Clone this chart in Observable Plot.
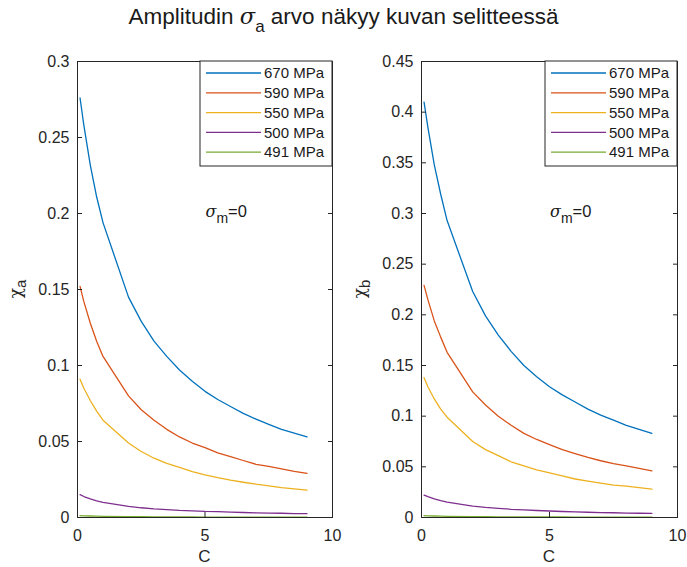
<!DOCTYPE html>
<html><head><meta charset="utf-8">
<script src="https://cdn.jsdelivr.net/npm/d3@7"></script>
<script src="https://cdn.jsdelivr.net/npm/@observablehq/plot@0.6"></script>
<style>
body{margin:0;background:#fff;font-family:"Liberation Sans",Arial,Helvetica,sans-serif;}
#wrap{position:relative;width:687px;height:567px;background:#fff;overflow:hidden;}
#title{position:absolute;top:3px;left:0;width:687px;text-align:center;font-size:22.5px;color:#1a1a1a;white-space:nowrap;}
#title i{font-family:"DejaVu Serif",serif;}
#title sub{font-size:17px;vertical-align:-8px;}
.panel{position:absolute;top:40px;}
</style></head><body>
<div id="wrap">
  <div id="title">Amplitudin <i>σ</i><sub>a</sub> arvo näkyy kuvan selitteessä</div>
  <div class="panel" id="pA" style="left:0px"></div>
  <div class="panel" id="pB" style="left:343px"></div>
</div>
<script>
// ---- data ----
const C = [0.1, 0.25, 0.5, 0.75, 1, 2, 2.5, 3, 3.5, 4, 4.5, 5, 5.5, 6, 6.5, 7, 7.5, 8, 8.5, 9];
const seriesNames = ["670 MPa", "590 MPa", "550 MPa", "500 MPa", "491 MPa"];
const seriesColors = ["#0072BD", "#D95319", "#EDB120", "#7E2F8E", "#77AC30"];

// chi_a (left panel)
const chiA_670 = [0.276, 0.258, 0.232, 0.211, 0.194, 0.145, 0.129, 0.116, 0.106, 0.097, 0.0896, 0.083, 0.0776, 0.073, 0.0685, 0.0647, 0.0613, 0.058, 0.0555, 0.053];
const chiA_590 = [0.152, 0.142, 0.128, 0.116, 0.106, 0.080, 0.0709, 0.064, 0.058, 0.053, 0.049, 0.046, 0.0425, 0.040, 0.0375, 0.035, 0.0336, 0.032, 0.0304, 0.029];
const chiA_550 = [0.091, 0.085, 0.077, 0.070, 0.064, 0.049, 0.0434, 0.039, 0.0356, 0.033, 0.0302, 0.028, 0.0262, 0.0246, 0.0232, 0.0219, 0.0208, 0.0197, 0.0188, 0.018];
const chiA_500 = [0.0150, 0.0138, 0.0123, 0.0110, 0.0100, 0.0073, 0.0064, 0.0057, 0.0052, 0.0047, 0.0044, 0.0040, 0.0038, 0.0035, 0.0033, 0.0031, 0.0029, 0.0028, 0.0026, 0.0025];
const chiA_491 = [0.0012, 0.0011, 0.0010, 0.0009, 0.0008, 0.0006, 0.0005, 0.00045, 0.0004, 0.0004, 0.00035, 0.0003, 0.0003, 0.0003, 0.00027, 0.00025, 0.00023, 0.00022, 0.00021, 0.0002];

// chi_b (right panel)
const chiB_670 = [0.410, 0.385, 0.348, 0.319, 0.293, 0.223, 0.199, 0.180, 0.164, 0.150, 0.139, 0.129, 0.121, 0.114, 0.107, 0.101, 0.096, 0.091, 0.087, 0.083];
const chiB_590 = [0.229, 0.215, 0.194, 0.178, 0.163, 0.124, 0.111, 0.100, 0.091, 0.083, 0.077, 0.072, 0.067, 0.063, 0.0593, 0.056, 0.0532, 0.051, 0.0484, 0.046];
const chiB_550 = [0.138, 0.129, 0.117, 0.107, 0.099, 0.075, 0.067, 0.061, 0.055, 0.051, 0.047, 0.044, 0.041, 0.038, 0.036, 0.034, 0.032, 0.031, 0.0295, 0.028];
const chiB_500 = [0.0220, 0.0205, 0.0183, 0.0166, 0.0152, 0.0113, 0.0100, 0.0090, 0.0081, 0.0075, 0.0069, 0.0064, 0.0059, 0.0056, 0.0052, 0.0049, 0.0047, 0.0044, 0.0042, 0.0040];
const chiB_491 = [0.0018, 0.0017, 0.0015, 0.0014, 0.0012, 0.0009, 0.0008, 0.0007, 0.0006, 0.0006, 0.0005, 0.0005, 0.0005, 0.0004, 0.0004, 0.0004, 0.0004, 0.0003, 0.0003, 0.0003];

const xTicks = [0, 5, 10];
const yTicksA = [0, 0.05, 0.1, 0.15, 0.2, 0.25, 0.3];
const yTicksB = [0, 0.05, 0.1, 0.15, 0.2, 0.25, 0.3, 0.35, 0.4, 0.45];

const FONT = '"Liberation Sans", Arial, Helvetica, sans-serif';
const AX = "#262626";

function makePanel(el, series, yMax, yTicks, sub, annY, dims) {
  const rows = [];
  series.forEach((vals, i) => vals.forEach((v, j) => rows.push({C: C[j], v, s: seriesNames[i]})));
  const plot = Plot.plot({
    width: dims.width, height: 527,
    marginLeft: dims.ml, marginRight: dims.mr, marginTop: 21, marginBottom: 50,
    style: {fontFamily: FONT, fontSize: "16px", color: AX, background: "#fff", overflow: "visible"},
    x: {domain: [0, 10]},
    y: {domain: [0, yMax]},
    color: {domain: seriesNames, range: seriesColors},
    marks: [
      Plot.line(rows, {x: "C", y: "v", stroke: "s", z: "s", strokeWidth: 1.3}),
      Plot.axisX({anchor: "bottom", ticks: xTicks, tickSize: -5, tickPadding: 17, label: null, tickFormat: d => String(d), stroke: AX, fill: AX}),
      Plot.axisX({anchor: "top", ticks: xTicks, tickSize: -5, label: null, tickFormat: () => "", stroke: AX}),
      Plot.axisY({anchor: "left", ticks: yTicks, tickSize: -5, tickPadding: 13, label: null, tickFormat: d => String(d), stroke: AX, fill: AX}),
      Plot.axisY({anchor: "right", ticks: yTicks, tickSize: -5, label: null, tickFormat: () => "", stroke: AX}),
      Plot.frame({stroke: AX, strokeWidth: 1})
    ]
  });
  el.appendChild(plot);
  const xs = plot.scale("x"), ys = plot.scale("y");
  const svg = d3.select(plot);
  const left = xs.range[0], right = xs.range[1];
  const bottom = ys.range[0], top = ys.range[1];

  // x label
  svg.append("text").attr("x", (left + right) / 2).attr("y", bottom + 45)
    .attr("text-anchor", "middle").attr("font-size", 17).attr("fill", AX).attr("font-family", FONT).text("C");

  // y label chi_sub
  const yl = svg.append("text")
    .attr("transform", `translate(${left - 56},${(top + bottom) / 2}) rotate(-90)`)
    .attr("text-anchor", "middle").attr("font-size", 17).attr("fill", AX).attr("font-family", FONT);
  yl.append("tspan").attr("font-family", '"DejaVu Serif", serif').attr("font-size", 17).text("χ");
  yl.append("tspan").attr("dy", 5).attr("font-size", 15).text(sub);

  // annotation sigma_m = 0
  const an = svg.append("text")
    .attr("x", xs.apply(5) + 1).attr("y", ys.apply(annY) + 4)
    .attr("text-anchor", "start")
    .attr("font-size", 16.5).attr("fill", "#1a1a1a").attr("font-family", FONT);
  an.append("tspan").attr("font-family", '"DejaVu Serif", serif').attr("font-style", "italic").attr("font-size", 16).text("σ");
  an.append("tspan").attr("dy", 6).attr("font-size", 14).text("m");
  an.append("tspan").attr("dy", -6).text("=0");

  // legend
  const lw = 132, lh = 105;
  const lx = right - lw, ly = top;
  const g = svg.append("g").attr("text-anchor", "start");
  g.append("rect").attr("x", lx).attr("y", ly).attr("width", lw).attr("height", lh)
    .attr("fill", "#fff").attr("stroke", AX).attr("stroke-width", 1);
  seriesNames.forEach((name, i) => {
    const yy = ly + 12 + i * 19.8;
    g.append("line").attr("x1", lx + 6).attr("x2", lx + 61).attr("y1", yy).attr("y2", yy)
      .attr("stroke", seriesColors[i]).attr("stroke-width", 1.3);
    g.append("text").attr("x", lx + 64).attr("y", yy).attr("dy", "0.35em")
      .attr("text-anchor", "start")
      .attr("font-size", 15).attr("fill", "#1a1a1a").attr("font-family", FONT).text(name);
  });
}

makePanel(document.getElementById("pA"), [chiA_670, chiA_590, chiA_550, chiA_500, chiA_491], 0.3, yTicksA, "a", 0.2, {width: 343, ml: 77, mr: 11});
makePanel(document.getElementById("pB"), [chiB_670, chiB_590, chiB_550, chiB_500, chiB_491], 0.45, yTicksB, "b", 0.3, {width: 344, ml: 78, mr: 10});
</script>
</body></html>
